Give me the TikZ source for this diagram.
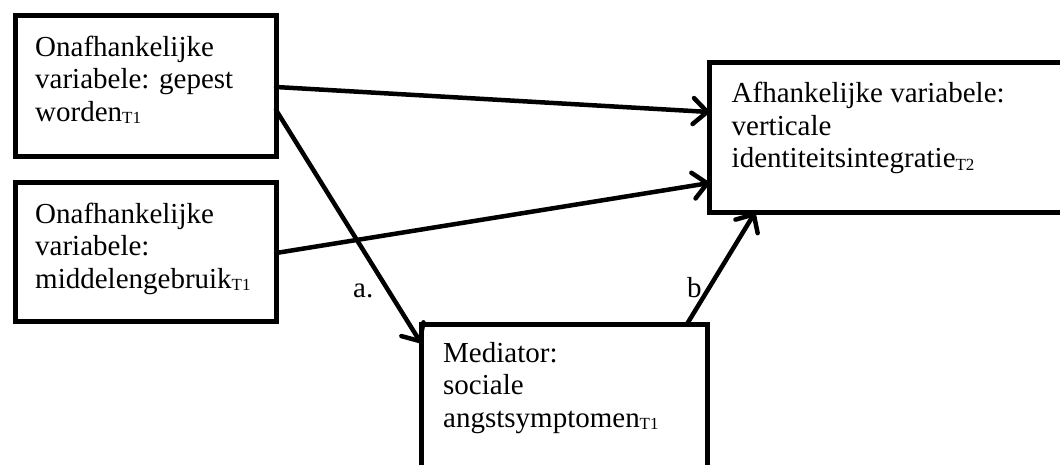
\documentclass[tikz,border=0pt]{standalone}
\usepackage{fontspec}
\setmainfont{Liberation Serif}
\usetikzlibrary{arrows.meta}
\newcommand{\mysub}[1]{\raisebox{-2.5pt}{\fontsize{17}{17}\selectfont #1}}
\begin{document}
\begin{tikzpicture}[x=1pt,y=-1pt,
  box/.style={draw=black,line width=5pt,inner sep=0pt,outer sep=0pt,anchor=north west,rectangle},
  txt/.style={inner sep=0pt,align=left,anchor=north west,font=\fontsize{29}{32.5}\selectfont},
  lbl/.style={inner sep=0pt,anchor=base west,font=\fontsize{29}{32.5}\selectfont},
  arr/.style={line width=4.5pt,line cap=round,-{Straight Barb[length=14pt,width=26pt,round]}}
]
\useasboundingbox (0,0) rectangle (1060,464);
\fill[white] (0,0) rectangle (1060,464);
% boxes
\node[box,minimum width=261pt,minimum height=140.5pt] (b1) at (15,15.5) {};
\node[box,minimum width=261pt,minimum height=139pt] (b2) at (15,182.5) {};
\node[box,minimum width=400pt,minimum height=150.5pt] (b3) at (709.5,62) {};
\node[box,minimum width=286.5pt,minimum height=200pt] (b4) at (421,324) {};
% texts
\node[txt] (t1) at ([xshift=20pt,yshift=-20pt]b1.north west) {Onafhankelijke\\variabele: gepest\\worden\mysub{T1}};
\node[txt] (t2) at ([xshift=20pt,yshift=-20pt]b2.north west) {Onafhankelijke\\variabele:\\middelengebruik\mysub{T1}};
\node[txt] (t3) at ([xshift=22pt,yshift=-20pt]b3.north west) {Afhankelijke variabele:\\verticale\\identiteitsintegratie\mysub{T2}};
\node[txt] (t4) at ([xshift=22pt,yshift=-18pt]b4.north west) {Mediator:\\sociale\\angstsymptomen\mysub{T1}};
% connectors
\draw[arr] ([yshift=-71.5pt]b1.north east) -- ([yshift=-50pt]b3.north west);
\draw[arr] ([yshift=-94.5pt]b1.north east) -- ([yshift=-19pt]b4.north west);
\draw[arr] ([yshift=-70.5pt]b2.north east) -- ([yshift=-121pt]b3.north west);
\draw[arr] ([xshift=266pt]b4.north west) -- ([xshift=45.5pt]b3.south west);
% labels
\node[lbl] (la) at (353,297) {a.};
\node[lbl] (lb) at (687,297) {b};
\end{tikzpicture}
\end{document}
